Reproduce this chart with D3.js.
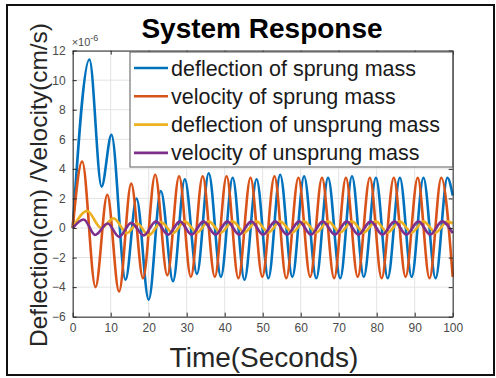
<!DOCTYPE html>
<html>
  <head>
  <title>System Response</title>
  <script src="https://d3js.org/d3.v7.min.js" charset="utf-8"></script>
<style>
body {
  margin: 0;
  background: white;
  font-family: "Liberation Sans", Arial, sans-serif;
}
</style>
  </head>
  <body>
    <script>
// tick values
var xTicks = [0, 10, 20, 30, 40, 50, 60, 70, 80, 90, 100];
var yTicks = [-6, -4, -2, 0, 2, 4, 6, 8, 10, 12];

// series names, same order as legend
var seriesNames = [
  "deflection of sprung mass",
  "velocity of sprung mass",
  "deflection of unsprung mass",
  "velocity of unsprung mass"
];

// [time, value x1e-6]: start, peaks, troughs, end
var sprungDeflection = [
  [0,0],[4.4,11.4],[7.6,2.8],[10.2,6.3],[13.9,-3.5],[16.8,2.0],[20.0,-4.85],[23.2,2.5],
  [26.4,-3.6],[29.5,3.3],[32.7,-3.1],[35.8,3.7],[39.0,-3.3],[42.1,3.4],[45.2,-3.5],
  [48.4,3.3],[51.5,-3.4],[54.6,3.6],[57.8,-3.3],[60.9,3.5],[64.1,-3.4],[67.2,3.4],
  [70.4,-3.4],[73.5,3.5],[76.6,-3.3],[79.8,3.4],[82.9,-3.4],[86.1,3.4],[89.2,-3.3],
  [92.3,3.4],[95.5,-3.4],[98.6,3.4],[100,2.2]
];
var sprungVelocity = [
  [0,0],[2.5,4.5],[6.0,-4.0],[9.1,2.25],[12.2,-4.3],[15.4,3.0],[18.5,-3.4],[21.7,3.6],
  [24.9,-3.2],[28.0,3.5],[31.1,-3.3],[34.2,3.5],[37.4,-3.3],[40.5,3.5],[43.6,-3.4],
  [46.8,3.4],[49.9,-3.3],[53.1,3.5],[56.2,-3.4],[59.4,3.4],[62.5,-3.3],[65.6,3.4],
  [68.8,-3.4],[71.9,3.4],[75.0,-3.3],[78.2,3.4],[81.3,-3.4],[84.5,3.4],[87.6,-3.3],
  [90.8,3.4],[93.9,-3.4],[97.0,3.4],[100,-3.3]
];
var unsprungDeflection = [
  [0,0],[3.8,1.15],[7.5,0.0],[10.8,0.65],[14.3,-0.35],[17.0,0.3],[20.0,-0.5],[23.3,0.4],
  [26.4,-0.35],[29.5,0.45],[32.7,-0.3],[35.8,0.45],[39.0,-0.3],[42.1,0.45],[45.2,-0.3],
  [48.4,0.45],[51.5,-0.3],[54.6,0.45],[57.8,-0.3],[60.9,0.45],[64.1,-0.3],[67.2,0.45],
  [70.4,-0.3],[73.5,0.45],[76.6,-0.3],[79.8,0.45],[82.9,-0.3],[86.1,0.45],[89.2,-0.3],
  [92.3,0.45],[95.5,-0.3],[98.6,0.45],[100,0.3]
];
var unsprungVelocity = [
  [0,0],[2.9,0.58],[5.9,-0.47],[9.2,0.3],[12.2,-0.6],[15.4,0.35],[18.7,-0.5],[21.9,0.45],
  [25.1,-0.45],[28.2,0.45],[31.3,-0.45],[34.4,0.45],[37.6,-0.45],[40.7,0.45],[43.8,-0.45],
  [47.0,0.45],[50.1,-0.45],[53.3,0.45],[56.4,-0.45],[59.6,0.45],[62.7,-0.45],[65.8,0.45],
  [69.0,-0.45],[72.1,0.45],[75.2,-0.45],[78.4,0.45],[81.5,-0.45],[84.7,0.45],[87.8,-0.45],
  [91.0,0.45],[94.1,-0.45],[97.2,0.45],[100,-0.35]
];

var colors = ["#0072BD", "#D95319", "#EDB120", "#7E2F8E"];
var allSeries = [sprungDeflection, sprungVelocity, unsprungDeflection, unsprungVelocity];

var width = 496;
var height = 378;
var plotLeft = 72.7, plotRight = 452.7, plotTop = 50.6, plotBottom = 316.7;

var svg = d3.select("body")
  .append("svg")
  .attr("width", width)
  .attr("height", height);

svg.append("rect")
  .attr("width", width).attr("height", height)
  .attr("fill", "white");

var x = d3.scaleLinear().domain([0, 100]).range([plotLeft, plotRight]);
var y = d3.scaleLinear().domain([-6, 12]).range([plotBottom, plotTop]);

// grid
var grid = svg.append("g").attr("stroke", "#e3e3e3").attr("stroke-width", 1);
grid.selectAll(".gx").data(xTicks).enter().append("line")
  .attr("x1", function(d){ return x(d); }).attr("x2", function(d){ return x(d); })
  .attr("y1", plotTop).attr("y2", plotBottom);
grid.selectAll(".gy").data(yTicks).enter().append("line")
  .attr("x1", plotLeft).attr("x2", plotRight)
  .attr("y1", function(d){ return y(d); }).attr("y2", function(d){ return y(d); });

// lines
var line = d3.line()
  .x(function(d){ return x(d[0]); })
  .y(function(d){ return y(d[1]); })
  .curve(d3.curveMonotoneX);

svg.append("g").selectAll("path")
  .data(allSeries)
  .enter()
  .append("path")
  .attr("fill", "none")
  .attr("stroke", function(d, i){ return colors[i]; })
  .attr("stroke-width", 2.6)
  .attr("d", line);

// axes, ticks pointing inward
var axisColor = "#262626";
function styleAxis(g) {
  g.select(".domain").attr("stroke", axisColor);
  g.selectAll(".tick line").attr("stroke", axisColor);
  g.selectAll(".tick text").attr("fill", "#4a4a4a")
    .style("font-family", "'Liberation Sans', Arial, sans-serif").style("font-size", "12px");
}
svg.append("g").attr("transform", "translate(0," + plotBottom + ")")
  .call(d3.axisBottom(x).tickValues(xTicks).tickSize(-4).tickSizeOuter(0).tickPadding(7))
  .call(styleAxis);
svg.append("g").attr("transform", "translate(" + plotLeft + ",0)")
  .call(d3.axisLeft(y).tickValues(yTicks).tickSize(-4).tickSizeOuter(0).tickPadding(7))
  .call(styleAxis);
svg.append("g").attr("transform", "translate(0," + plotTop + ")")
  .call(d3.axisTop(x).tickValues(xTicks).tickSize(-4).tickSizeOuter(0).tickFormat(""))
  .call(styleAxis);
svg.append("g").attr("transform", "translate(" + plotRight + ",0)")
  .call(d3.axisRight(y).tickValues(yTicks).tickSize(-4).tickSizeOuter(0).tickFormat(""))
  .call(styleAxis);

// exponent label
var expo = svg.append("text")
  .attr("x", plotLeft - 1).attr("y", 46)
  .attr("fill", "#4a4a4a")
  .style("font-size", "11px");
expo.append("tspan").text("\u00d710");
expo.append("tspan").attr("dy", -5).style("font-size", "9px").text("-6");

// legend
var legend = svg.append("g");
legend.append("rect")
  .attr("x", 130).attr("y", 52)
  .attr("width", plotRight - 130).attr("height", 115)
  .attr("fill", "white")
  .attr("stroke", "#5a5a5a")
  .attr("stroke-width", 1);
var rows = legend.selectAll(".row").data(seriesNames).enter().append("g")
  .attr("transform", function(d, i){ return "translate(0," + (68 + i * 28.3) + ")"; });
rows.append("line")
  .attr("x1", 134).attr("x2", 168)
  .attr("stroke", function(d, i){ return colors[i]; })
  .attr("stroke-width", 2.6);
rows.append("text")
  .attr("x", 171).attr("y", 7.5)
  .attr("fill", "#1a1a1a")
  .style("font-size", "21.5px")
  .text(function(d){ return d; });

// title and axis labels
svg.append("text")
  .attr("x", 262).attr("y", 38)
  .attr("text-anchor", "middle")
  .style("font-size", "28px").style("font-weight", "bold")
  .text("System Response");

svg.append("text")
  .attr("x", 264).attr("y", 367)
  .attr("text-anchor", "middle")
  .attr("fill", "#262626")
  .style("font-size", "28px")
  .text("Time(Seconds)");

svg.append("text")
  .attr("transform", "translate(47,185) rotate(-90)")
  .attr("text-anchor", "middle")
  .attr("fill", "#262626")
  .style("font-size", "24.5px")
  .text("Deflection(cm) /Velocity(cm/s)");

// outer frame
svg.append("rect")
  .attr("x", 7).attr("y", 5)
  .attr("width", 487).attr("height", 370)
  .attr("fill", "none")
  .attr("stroke", "#111")
  .attr("stroke-width", 2);
    </script>
  </body>
</html>
